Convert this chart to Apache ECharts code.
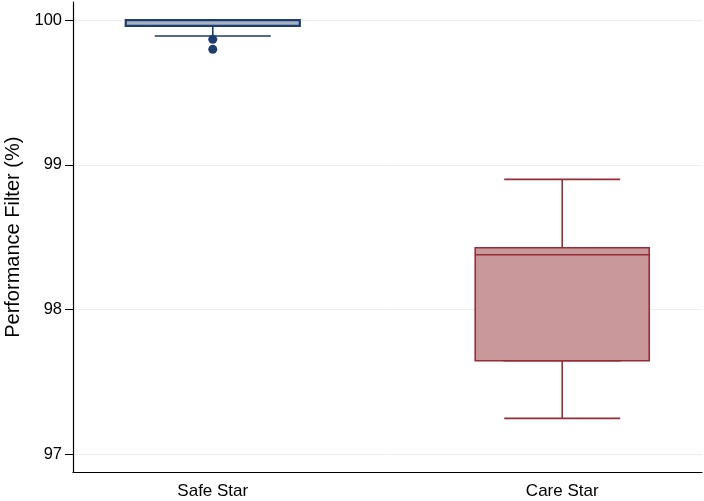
<!DOCTYPE html>
<html>
<head>
<meta charset="utf-8">
<script src="https://cdn.jsdelivr.net/npm/echarts@6/dist/echarts.min.js"></script>
<style>
html, body { margin: 0; padding: 0; background: #fff; }
#chart { width: 704px; height: 501px; }
</style>
</head>
<body>
<div id="chart"></div>
<script>
// groups and their box statistics (Performance Filter, %)
const categories = ['Safe Star', 'Care Star'];
const positions = [1, 2];
const lowerWhisker = [99.89, 97.249];
const q1 = [99.96, 97.647];
const median = [100.0, 98.379];
const q3 = [100.0, 98.427];
const upperWhisker = [100.0, 98.90];
const outliers = [[1, 99.867], [1, 99.798]];
const yTicks = [97, 98, 99, 100];

const borderColors = ['#1b3d6f', '#962d36'];
const fillColors = ['#a7b3c3', '#c8989b'];

const myChart = echarts.init(document.getElementById('chart'));

// narrow series draws whiskers and caps, wide series draws box + median on top
const whiskerData = positions.map((p, i) => ({
    value: [p, lowerWhisker[i], q1[i], median[i], q3[i], upperWhisker[i]],
    itemStyle: { color: fillColors[i], borderColor: borderColors[i] }
}));
const boxData = positions.map((p, i) => ({
    value: [p, q1[i], q1[i], median[i], q3[i], q3[i]],
    itemStyle: { color: fillColors[i], borderColor: borderColors[i], borderWidth: i === 0 ? 2.2 : 1.6 }
}));

const xBase = {
    type: 'value',
    min: 0.6,
    max: 2.4,
    splitLine: { show: false }
};

myChart.setOption({
    animation: false,
    grid: { left: 73, right: 2, top: 2, bottom: 28.5, containLabel: false, outerBoundsMode: 'none' },
    xAxis: [
        Object.assign({}, xBase, {
            axisLine: { show: true, lineStyle: { color: '#000', width: 1.2 } },
            axisTick: { show: false },
            axisLabel: {
                customValues: positions,
                formatter: v => categories[Math.round(v) - 1],
                color: '#000',
                fontFamily: 'Liberation Sans, Arial',
                fontSize: 17,
                margin: 10
            }
        }),
        Object.assign({}, xBase, {
            show: false
        })
    ],
    yAxis: {
        type: 'value',
        min: 96.875,
        max: 100.125,
        name: 'Performance Filter (%)',
        nameLocation: 'middle',
        nameGap: 50,
        nameTextStyle: { color: '#000', fontFamily: 'Liberation Sans, Arial', fontSize: 20 },
        axisLine: { show: true, lineStyle: { color: '#000', width: 1.2 } },
        axisTick: { show: true, length: 8, customValues: yTicks, lineStyle: { color: '#000' } },
        axisLabel: {
            customValues: yTicks,
            color: '#000',
            fontFamily: 'Liberation Sans, Arial',
            fontSize: 16.5,
            margin: 11
        },
        splitLine: { show: true, lineStyle: { color: '#e8eef3', width: 1 } }
    },
    series: [
        {
            type: 'boxplot',
            xAxisIndex: 0,
            boxWidth: [116, 116],
            itemStyle: { borderWidth: 1.6 },
            data: whiskerData,
            z: 2
        },
        {
            type: 'boxplot',
            xAxisIndex: 1,
            boxWidth: [174, 174],
            data: boxData,
            z: 3
        },
        {
            type: 'scatter',
            xAxisIndex: 0,
            symbol: 'circle',
            symbolSize: 9,
            itemStyle: { color: borderColors[0], opacity: 1 },
            data: outliers,
            z: 4
        }
    ]
});
</script>
</body>
</html>
